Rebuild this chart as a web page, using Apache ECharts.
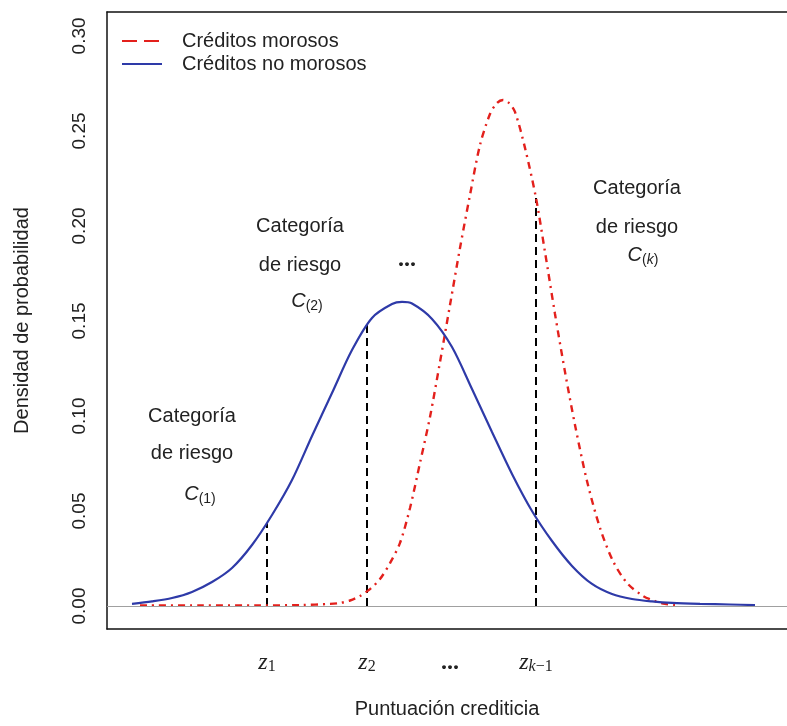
<!DOCTYPE html>
<html><head><meta charset="utf-8">
<script src="https://cdn.jsdelivr.net/npm/echarts@6/dist/echarts.min.js"></script>
<style>html,body{margin:0;padding:0;background:#fff}#c{width:787px;height:726px}</style>
</head><body><div id="c"></div>
<script>
// ---- data (x = credit score in arbitrary units, y = density) ----
const seriesNames = ['Créditos morosos', 'Créditos no morosos'];
const noMorososX = [2.5, 4.5, 6.5, 8.5, 10.5, 12.5, 14.5, 16.5, 18.5, 20.5, 22.5, 24.5, 26.5, 28.5, 29.5, 30.5, 32.5, 34.5, 36.5, 38.5, 40.5, 42.5, 44.5, 46.5, 48.5, 50.5, 52.5, 54.5, 56.5, 59.3, 62.3, 64.8];
const noMorososY = [0.0011, 0.0024, 0.0042, 0.0074, 0.0126, 0.0200, 0.0321, 0.0479, 0.0663, 0.0895, 0.1121, 0.1347, 0.1516, 0.1589, 0.1600, 0.1592, 0.1511, 0.1363, 0.1142, 0.0916, 0.0695, 0.0500, 0.0342, 0.0211, 0.0116, 0.0063, 0.0037, 0.0024, 0.0016, 0.0011, 0.0008, 0.0005];
const morososX = [3.3, 9.3, 15.3, 19.3, 22.3, 23.3, 24.3, 25.3, 26.3, 27.3, 28.3, 29.3, 30.3, 31.3, 32.3, 33.3, 34.3, 35.3, 36.3, 37.3, 38.3, 39.0, 39.6, 40.2, 40.8, 41.8, 42.9, 43.8, 44.8, 45.8, 46.8, 48.0, 49.3, 50.6, 52.0, 53.6, 54.8, 55.8, 56.8];
const morososY = [0.0003, 0.0003, 0.0003, 0.0005, 0.0011, 0.0016, 0.0029, 0.0053, 0.0089, 0.0142, 0.0226, 0.0332, 0.0516, 0.0753, 0.0995, 0.1284, 0.1584, 0.1884, 0.2163, 0.2426, 0.2589, 0.2647, 0.2663, 0.2647, 0.2600, 0.2411, 0.2147, 0.1863, 0.1537, 0.1232, 0.0953, 0.0658, 0.0411, 0.0237, 0.0121, 0.0053, 0.0026, 0.0011, 0.0005];
const cutX = [16.0, 26.0, 42.9];
const cutTop = [0.0437, 0.1479, 0.2147];
const xTickValues = [16.0, 26.0, 34.3, 42.9];
const xTickLabels = ['{z|z}{s|1}', '{z|z}{s|2}', '{d|...}', '{z|z}{sk|k}{s|−1}'];
const yTickValues = [0, 0.05, 0.10, 0.15, 0.20, 0.25, 0.30];

const SANS = 'Liberation Sans, Arial, sans-serif';
const SERIF = 'Liberation Serif, DejaVu Serif, serif';
const X_MIN = 0, X_MAX = 68.0, Y_MIN = -0.0121, Y_MAX = 0.3126;
const chart = echarts.init(document.getElementById('c'));

const zip = (xs, ys) => xs.map((x, i) => [x, ys[i]]);
const cutSeries = cutX.map((x, i) => ({
  type: 'line', data: [[x, 0], [x, cutTop[i]]], symbol: 'none', silent: true,
  lineStyle: { color: '#000', width: 2, type: [8, 5] }, z: 3
}));

const richC = {
  c: { fontFamily: SANS, fontStyle: 'italic', fontSize: 20, lineHeight: 24, color: '#222' },
  s: { fontFamily: SANS, fontSize: 14, lineHeight: 16, verticalAlign: 'bottom', color: '#222' },
  sk: { fontFamily: SANS, fontStyle: 'italic', fontSize: 14, lineHeight: 16, verticalAlign: 'bottom', color: '#222' }
};
function txt(x, y, t) {
  return { type: 'text', x: x, y: y, silent: true,
    style: { text: t, fontFamily: SANS, fontSize: 20, fill: '#222', align: 'center', verticalAlign: 'middle', rich: richC } };
}
const hidden = { opacity: 0, color: 'rgba(0,0,0,0)', borderWidth: 0 };

chart.setOption({
  animation: false,
  grid: { left: 107, right: 0, top: 12, bottom: 97 },
  legend: {
    left: 116, top: 26, orient: 'vertical', itemWidth: 40, itemHeight: 14, itemGap: 3,
    textStyle: { fontFamily: SANS, fontSize: 20, color: '#222', lineHeight: 20, padding: [0, 0, 0, 15] },
    data: [
      { name: seriesNames[0], itemStyle: hidden, lineStyle: { type: [15, 7], width: 2 } },
      { name: seriesNames[1], itemStyle: hidden, lineStyle: { width: 2 } }
    ]
  },
  xAxis: [{
    type: 'value', min: X_MIN, max: X_MAX,
    axisLine: { show: true, onZero: false, lineStyle: { color: '#111', width: 1.5 } },
    axisTick: { show: false }, splitLine: { show: false },
    axisLabel: {
      customValues: xTickValues, margin: 22,
      formatter: v => { const i = xTickValues.findIndex(t => Math.abs(t - v) < 1e-6); return i >= 0 ? xTickLabels[i] : ''; },
      rich: {
        z: { fontFamily: SERIF, fontStyle: 'italic', fontSize: 24, lineHeight: 24, color: '#222' },
        s: { fontFamily: SERIF, fontSize: 16, lineHeight: 14, verticalAlign: 'bottom', color: '#222' },
        sk: { fontFamily: SERIF, fontStyle: 'italic', fontSize: 16, lineHeight: 14, verticalAlign: 'bottom', color: '#222' },
        d: { fontFamily: SERIF, fontSize: 24, fontWeight: 'bold', lineHeight: 24, color: '#222' }
      }
    },
    name: 'Puntuación crediticia', nameLocation: 'middle', nameGap: 70,
    nameTextStyle: { fontFamily: SANS, fontSize: 20, color: '#222' }
  }, {
    type: 'value', position: 'top', min: X_MIN, max: X_MAX,
    axisLine: { show: true, onZero: false, lineStyle: { color: '#111', width: 1.5 } },
    axisTick: { show: false }, axisLabel: { show: false }, splitLine: { show: false }
  }],
  yAxis: {
    type: 'value', min: Y_MIN, max: Y_MAX,
    axisLine: { show: true, onZero: false, lineStyle: { color: '#111', width: 1.5 } },
    axisTick: { show: false }, splitLine: { show: false },
    axisLabel: { customValues: yTickValues, rotate: 90, margin: 18, fontFamily: SANS, fontSize: 19, color: '#222',
      formatter: v => v.toFixed(2) },
    name: 'Densidad de probabilidad', nameLocation: 'middle', nameGap: 75, nameRotate: 90,
    nameTextStyle: { fontFamily: SANS, fontSize: 20, color: '#222' }
  },
  series: [
    { name: seriesNames[0], type: 'line', data: zip(morososX, morososY), symbol: 'none', smooth: 0.3,
      lineStyle: { color: '#e3201c', width: 2.4, type: [7, 5, 2, 5] }, itemStyle: { color: '#e3201c' }, z: 4 },
    { name: seriesNames[1], type: 'line', data: zip(noMorososX, noMorososY), symbol: 'none', smooth: 0.3,
      lineStyle: { color: '#2e3aa8', width: 2.2 }, itemStyle: { color: '#2e3aa8' }, z: 4,
      markLine: { silent: true, symbol: 'none', label: { show: false }, data: [{ yAxis: 0 }],
        lineStyle: { color: '#a0a0a0', width: 1, type: 'solid' } } },
    ...cutSeries
  ],
  graphic: [
    txt(192, 416, 'Categoría'), txt(192, 453, 'de riesgo'), txt(200, 494, '{c|C}{s|(1)}'),
    txt(300, 226, 'Categoría'), txt(300, 265, 'de riesgo'), txt(307, 301, '{c|C}{s|(2)}'),
    txt(637, 188, 'Categoría'), txt(637, 227, 'de riesgo'), txt(643, 255, '{c|C}{s|(}{sk|k}{s|)}'),
    { type: 'text', x: 407, y: 260, silent: true, style: { text: '...', fontFamily: SERIF, fontSize: 24, fontWeight: 'bold', fill: '#222', align: 'center', verticalAlign: 'middle' } }
  ]
});
</script></body></html>
